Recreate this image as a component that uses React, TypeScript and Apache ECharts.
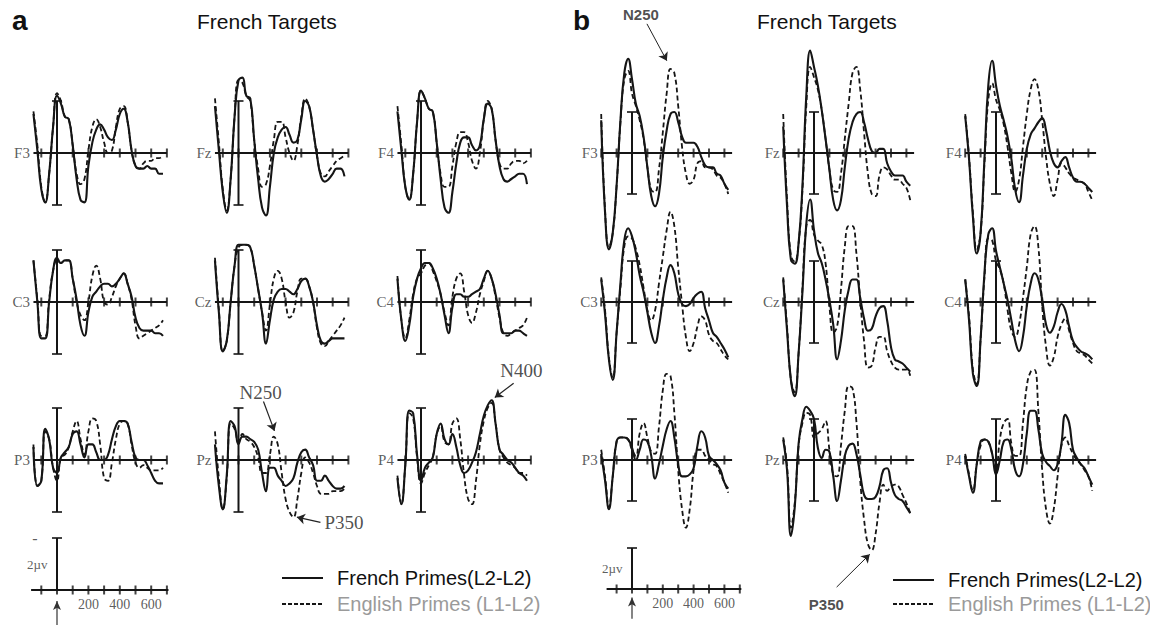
import React, { useEffect, useRef } from "react";
import * as echarts from "echarts";

// ---------- time bases (ms) and tick values ----------
const TIMES_A = [-150, -125, -100, -75, -50, -25, 0, 25, 50, 75, 100, 125, 150, 175, 200, 225, 250, 275, 300, 325, 350, 375, 400, 425, 450, 475, 500, 525, 550, 575, 600, 625, 650, 675];
const TIMES_B = [-200, -175, -150, -125, -100, -75, -50, -25, 0, 25, 50, 75, 100, 125, 150, 175, 200, 225, 250, 275, 300, 325, 350, 375, 400, 425, 450, 475, 500, 525, 550, 575, 600, 625];
const TICKS_A = [-100, 0, 100, 200, 300, 400, 500, 600, 700];
const TICKS_B = [-200, -100, 0, 100, 200, 300, 400, 500, 600];
const SCALE_TICKS = [-100, 0, 100, 200, 300, 400, 500, 600, 700];
const SCALE_LABELS = [200, 400, 600];
const SCALE_UV = 2;
const ELECTRODES = ["F3", "Fz", "F4", "C3", "Cz", "C4", "P3", "Pz", "P4"];

// ---------- panel a (µV, negative plotted up) ----------
const A_F3_FRENCH = [-1.5, -0.1, 1.4, 1.9, 0.8, -1.0, -2.2, -1.9, -1.4, -1.3, -0.3, 1.0, 1.8, 1.9, 0.5, -0.4, -0.9, -1.1, -0.9, -0.6, -0.5, -0.9, -1.5, -1.7, -1.2, -0.1, 0.5, 0.6, 0.6, 0.5, 0.6, 0.6, 0.8, 0.8];
const A_F3_ENGLISH = [-1.6, -0.3, 1.3, 1.9, 0.8, -1.0, -2.3, -2.0, -1.4, -1.3, -0.3, 0.8, 1.2, 1.0, -0.1, -1.0, -1.3, -1.0, -0.4, 0.0, -0.1, -1.0, -1.7, -1.8, -1.2, -0.1, 0.5, 0.6, 0.4, 0.3, 0.3, 0.2, 0.2, 0.1];
const A_FZ_FRENCH = [-1.8, -0.1, 1.5, 2.3, 1.0, -1.4, -2.8, -2.9, -2.2, -2.1, -0.5, 1.0, 2.1, 2.4, 1.3, 0.0, -0.6, -0.9, -1.0, -0.7, -0.4, -0.5, -1.3, -2.0, -1.8, -0.9, 0.1, 0.9, 1.1, 1.0, 0.8, 0.6, 0.6, 0.9];
const A_FZ_ENGLISH = [-2.1, -0.4, 1.4, 2.2, 1.0, -1.4, -2.8, -2.7, -2.2, -2.0, -0.5, 0.6, 1.3, 1.2, 0.5, -0.5, -1.2, -1.2, -0.6, 0.0, 0.3, -0.3, -1.4, -2.1, -1.8, -0.9, 0.1, 0.8, 0.9, 0.7, 0.5, 0.3, 0.2, 0.1];
const A_F4_FRENCH = [-1.6, -0.1, 1.3, 1.8, 0.8, -1.2, -2.4, -2.1, -1.7, -1.6, -0.4, 1.0, 2.1, 2.3, 1.5, 0.4, -0.4, -0.6, -0.6, -0.3, -0.1, -0.3, -1.3, -1.9, -1.7, -0.5, 0.5, 1.0, 1.1, 1.0, 0.9, 0.8, 0.8, 1.2];
const A_F4_ENGLISH = [-1.8, -0.3, 1.3, 1.8, 0.8, -1.2, -2.4, -2.1, -1.7, -1.6, -0.4, 0.8, 1.3, 1.3, 0.5, -0.4, -0.8, -0.8, -0.4, 0.3, 0.6, 0.0, -1.3, -2.0, -1.7, -0.5, 0.4, 0.6, 0.6, 0.4, 0.3, 0.3, 0.4, 0.3];
const A_C3_FRENCH = [-1.6, 0.0, 1.4, 1.4, 0.0, -1.2, -1.7, -1.5, -1.6, -1.6, -0.9, -0.1, 0.9, 1.3, 0.4, -0.2, -0.4, -0.6, -0.7, -0.7, -0.6, -0.7, -0.9, -1.1, -0.7, -0.2, 0.6, 1.0, 1.1, 1.1, 1.1, 1.2, 1.2, 1.3];
const A_C3_ENGLISH = [-1.6, -0.1, 1.3, 1.3, -0.1, -1.2, -1.6, -1.5, -1.6, -1.6, -0.9, 0.0, 0.5, 0.7, 0.0, -1.0, -1.4, -0.9, 0.0, 0.1, -0.2, -0.6, -0.9, -1.1, -0.7, -0.1, 0.9, 1.4, 1.3, 1.2, 1.1, 1.0, 0.9, 0.7];
const A_CZ_FRENCH = [-1.6, 0.4, 1.9, 1.5, 0.0, -1.4, -2.2, -2.2, -2.2, -2.1, -1.4, -0.5, 0.4, 1.6, 0.7, -0.1, -0.4, -0.5, -0.5, -0.4, -0.3, -0.5, -0.8, -0.9, -0.6, 0.0, 0.9, 1.5, 1.6, 1.5, 1.4, 1.4, 1.4, 1.4];
const A_CZ_ENGLISH = [-1.7, 0.3, 1.9, 1.5, 0.0, -1.4, -2.1, -2.2, -2.2, -2.1, -1.4, -0.5, 0.4, 1.1, 0.1, -0.9, -1.2, -0.9, 0.0, 0.6, 0.4, -0.4, -0.9, -0.9, -0.6, 0.0, 1.0, 1.6, 1.7, 1.5, 1.3, 1.1, 0.9, 0.6];
const A_C4_FRENCH = [-0.9, 0.7, 1.5, 0.9, -0.2, -0.9, -1.3, -1.5, -1.5, -1.3, -0.9, -0.3, 0.5, 1.2, 0.2, -0.3, -0.3, -0.2, -0.2, -0.3, -0.4, -0.5, -0.9, -1.2, -0.9, -0.3, 0.5, 1.2, 1.2, 1.2, 1.1, 1.1, 1.2, 1.3];
const A_C4_ENGLISH = [-1.0, 0.7, 1.4, 0.7, -0.3, -0.9, -1.1, -1.4, -1.5, -1.2, -0.8, -0.3, 0.4, 0.9, -0.2, -0.9, -1.1, -0.4, 0.5, 0.8, 0.4, -0.3, -0.8, -1.2, -0.9, -0.2, 0.6, 1.2, 1.3, 1.2, 1.1, 1.0, 0.9, 0.6];
const A_P3_FRENCH = [-0.5, 1.0, 0.8, -1.2, -0.8, 0.3, 0.5, -0.1, -0.3, -0.5, -1.0, -1.1, -0.6, -0.1, -0.6, -0.6, -0.3, 0.0, 0.0, -0.2, -0.8, -1.3, -1.5, -1.5, -1.4, -0.7, -0.1, 0.0, 0.0, 0.2, 0.5, 0.8, 0.9, 0.9];
const A_P3_ENGLISH = [-0.6, 1.0, 0.8, -1.1, -0.8, 0.3, 0.8, -0.1, -0.2, -0.5, -1.1, -1.5, -0.8, -0.2, -1.1, -1.6, -1.5, -0.6, 0.7, 0.8, 0.1, -0.8, -1.4, -1.5, -1.4, -0.6, 0.1, 0.3, 0.2, 0.3, 0.4, 0.4, 0.4, 0.3];
const A_PZ_FRENCH = [-0.6, 1.0, 1.9, 0.6, -1.5, -1.3, -0.6, -0.9, -0.9, -0.8, -0.7, -0.4, 0.5, 1.2, 0.3, 0.3, 0.6, 0.8, 1.0, 0.9, 0.7, 0.1, -0.3, -0.4, -0.1, 0.2, 0.8, 0.8, 0.6, 0.8, 1.0, 1.1, 1.1, 1.0];
const A_PZ_ENGLISH = [-1.1, 0.7, 1.9, 0.7, -1.4, -1.2, -0.7, -1.0, -0.8, -0.7, -0.5, -0.1, 0.5, 0.5, -0.2, -0.9, -0.6, 0.5, 1.5, 2.0, 2.2, 1.5, 0.5, -0.1, 0.1, 0.5, 1.0, 1.3, 1.3, 1.3, 1.2, 1.2, 1.2, 1.1];
const A_P4_FRENCH = [0.7, 1.7, 0.2, -1.9, -1.8, -0.2, 0.8, 0.3, 0.1, -0.1, -1.0, -1.4, -0.8, -0.6, -1.0, -0.5, 0.2, 0.5, 0.4, 0.1, -0.3, -1.0, -1.7, -2.1, -2.3, -1.4, -0.4, -0.2, 0.0, 0.1, 0.3, 0.5, 0.6, 0.8];
const A_P4_ENGLISH = [0.6, 1.7, 0.2, -1.8, -1.6, -0.1, 0.9, 0.5, 0.2, -0.1, -1.0, -1.3, -0.7, -0.6, -1.4, -1.6, -0.8, 0.6, 1.5, 1.7, 0.8, -0.6, -1.5, -2.0, -2.2, -1.4, -0.4, -0.1, 0.1, 0.2, 0.3, 0.5, 0.5, 0.6];

// ---------- panel b ----------
const B_F3_FRENCH = [-1.6, 2.9, 4.7, 3.9, 1.6, -1.6, -3.9, -4.6, -3.6, -2.4, -1.8, -0.8, 0.7, 2.1, 2.6, 2.0, 0.2, -1.1, -1.9, -2.0, -1.5, -0.8, -0.5, -0.5, -0.5, -0.3, 0.2, 0.6, 0.7, 0.7, 1.0, 1.1, 1.5, 1.8];
const B_F3_ENGLISH = [-1.9, 2.8, 4.6, 3.9, 1.6, -1.5, -3.6, -4.0, -2.9, -2.3, -1.6, -0.7, 0.7, 1.8, 1.9, 0.8, -1.0, -2.9, -4.1, -3.9, -2.3, -0.3, 1.0, 1.5, 1.3, 0.5, 0.4, 0.7, 0.7, 0.8, 1.1, 1.2, 1.5, 2.0];
const B_FZ_FRENCH = [-1.3, 2.6, 5.2, 5.4, 4.4, 1.6, -2.8, -5.0, -4.2, -3.3, -2.1, -0.7, 0.8, 2.3, 2.8, 2.3, 0.7, -0.7, -1.5, -1.9, -2.0, -1.5, -0.7, -0.1, 0.0, -0.2, -0.2, 0.5, 0.9, 1.1, 1.1, 1.1, 1.4, 1.6];
const B_FZ_ENGLISH = [-1.9, 2.3, 5.0, 5.3, 4.4, 1.8, -2.3, -4.2, -3.7, -3.1, -2.1, -0.7, 0.8, 1.8, 1.9, 1.0, -0.7, -2.4, -3.9, -4.2, -3.1, -1.0, 1.0, 2.0, 2.1, 1.1, 0.7, 0.8, 1.1, 1.3, 1.3, 1.5, 1.7, 2.3];
const B_F4_FRENCH = [-1.8, 0.3, 3.1, 4.9, 3.9, 0.3, -3.3, -4.5, -3.3, -2.3, -1.6, -0.8, 0.3, 1.8, 2.4, 1.1, -0.2, -0.9, -1.2, -1.5, -1.7, -1.1, -0.1, 0.5, 0.7, 0.4, 0.2, 0.7, 1.2, 1.4, 1.4, 1.5, 1.7, 1.9];
const B_F4_ENGLISH = [-1.9, 0.2, 2.9, 4.7, 3.9, 0.5, -2.6, -3.4, -2.6, -2.1, -1.4, -0.3, 1.0, 1.9, 1.3, -0.3, -1.9, -3.1, -3.6, -3.1, -1.6, 0.2, 1.5, 2.1, 1.3, 0.5, 0.7, 1.0, 1.2, 1.3, 1.4, 1.5, 1.9, 2.3];
const B_C3_FRENCH = [-1.1, 0.6, 2.8, 3.8, 1.5, -0.9, -3.0, -3.6, -3.2, -2.4, -1.3, -0.5, 0.5, 1.5, 2.0, 1.2, -0.1, -1.2, -1.8, -1.4, -0.4, 0.1, 0.2, 0.1, -0.2, -0.4, -0.5, 0.3, 0.9, 1.5, 1.7, 2.0, 2.3, 2.7];
const B_C3_ENGLISH = [-1.2, 0.4, 2.7, 3.7, 1.5, -0.7, -2.7, -3.2, -3.1, -2.6, -1.8, -0.7, 0.4, 0.9, 0.4, -0.9, -2.2, -3.5, -4.4, -3.7, -1.7, 0.1, 1.7, 2.4, 2.0, 1.2, 0.7, 0.9, 1.6, 1.9, 2.0, 2.3, 2.6, 2.8];
const B_CZ_FRENCH = [-1.1, 1.4, 3.8, 4.6, 2.5, -0.5, -3.8, -5.0, -3.5, -2.4, -1.9, -1.1, -0.1, 1.1, 2.8, 1.9, 0.4, -0.6, -1.1, -1.1, -0.2, 0.8, 1.4, 1.3, 0.7, 0.3, 0.2, 0.9, 2.2, 2.8, 2.9, 3.0, 3.2, 3.4];
const B_CZ_ENGLISH = [-1.2, 1.2, 3.8, 4.4, 2.5, -0.7, -3.7, -4.0, -3.3, -3.0, -2.8, -1.9, 0.2, 1.5, 1.2, -0.6, -2.7, -3.7, -3.7, -2.4, -0.1, 1.9, 3.2, 3.1, 2.2, 1.7, 1.7, 2.4, 2.9, 3.2, 3.3, 3.3, 3.3, 3.6];
const B_C4_FRENCH = [-1.1, 0.9, 3.5, 4.1, 1.8, -1.4, -3.3, -3.6, -2.5, -1.7, -0.9, -0.1, 0.9, 1.9, 2.4, 1.7, 0.2, -0.9, -1.4, -1.1, -0.1, 1.1, 1.5, 1.2, 0.5, 0.1, 0.4, 1.2, 1.9, 2.2, 2.4, 2.5, 2.6, 2.8];
const B_C4_ENGLISH = [-1.1, 0.7, 3.3, 4.0, 1.8, -1.2, -3.1, -3.0, -2.0, -1.6, -0.9, 0.4, 1.4, 1.7, 1.1, -0.2, -1.7, -3.3, -3.7, -2.7, 0.2, 2.2, 3.1, 2.7, 1.7, 1.1, 0.8, 1.4, 2.0, 2.4, 2.5, 2.6, 2.8, 3.0];
const B_P3_FRENCH = [-0.3, 1.0, 2.4, 0.8, -0.9, -1.1, -1.1, -1.0, -0.6, 0.0, -0.5, -1.0, -0.9, -0.2, 0.9, 0.2, -0.7, -1.5, -1.9, -1.1, 0.2, 0.8, 0.8, 0.7, 0.4, -0.7, -1.4, -1.1, -0.2, 0.0, 0.2, 0.5, 1.1, 1.4];
const B_P3_ENGLISH = [-0.5, 0.8, 2.3, 0.8, -0.9, -1.1, -1.1, -1.0, -0.5, -0.2, -1.3, -1.8, -1.1, -0.4, -0.3, -1.6, -3.4, -4.2, -4.1, -2.3, 0.5, 2.4, 3.3, 2.4, 0.5, -0.5, -0.5, -0.2, 0.0, 0.2, 0.3, 0.7, 1.1, 1.6];
const B_PZ_FRENCH = [-1.0, 0.5, 3.7, 2.3, -0.8, -2.0, -2.6, -2.4, -2.0, -0.6, -0.1, -0.5, -0.4, 0.8, 2.0, 1.0, -0.2, -0.7, -0.8, -0.3, 0.7, 1.7, 1.9, 1.9, 1.8, 1.3, 0.5, 0.4, 1.1, 1.7, 1.9, 2.0, 2.3, 2.6];
const B_PZ_ENGLISH = [-1.1, 0.3, 3.3, 2.1, -0.7, -1.8, -2.3, -2.2, -1.1, -1.3, -1.5, -1.9, -0.5, 0.7, 0.8, -0.7, -2.4, -3.6, -3.5, -1.9, 1.0, 2.9, 4.1, 4.4, 3.6, 2.1, 1.2, 1.5, 1.3, 1.2, 1.3, 1.7, 2.1, 2.6];
const B_P4_FRENCH = [-0.2, 0.8, 1.6, 0.2, -0.9, -1.0, -0.9, -0.3, 0.7, 0.0, -0.9, -1.0, -0.5, 0.5, 0.8, 0.2, -1.3, -2.4, -2.4, -1.5, -0.3, 0.1, 0.3, 0.5, 0.2, -0.8, -2.2, -1.8, -0.5, -0.1, 0.2, 0.4, 0.8, 1.2];
const B_P4_ENGLISH = [-0.3, 0.7, 1.5, 0.2, -0.7, -1.0, -0.9, -0.3, 0.5, -1.0, -1.8, -2.0, -0.8, -0.2, -0.2, -1.8, -3.6, -4.3, -4.4, -2.4, 0.5, 2.4, 3.1, 2.4, 0.8, -0.7, -1.1, -0.7, -0.3, 0.0, 0.2, 0.5, 0.8, 1.5];

const A_FRENCH = [A_F3_FRENCH, A_FZ_FRENCH, A_F4_FRENCH, A_C3_FRENCH, A_CZ_FRENCH, A_C4_FRENCH, A_P3_FRENCH, A_PZ_FRENCH, A_P4_FRENCH];
const A_ENGLISH = [A_F3_ENGLISH, A_FZ_ENGLISH, A_F4_ENGLISH, A_C3_ENGLISH, A_CZ_ENGLISH, A_C4_ENGLISH, A_P3_ENGLISH, A_PZ_ENGLISH, A_P4_ENGLISH];
const B_FRENCH = [B_F3_FRENCH, B_FZ_FRENCH, B_F4_FRENCH, B_C3_FRENCH, B_CZ_FRENCH, B_C4_FRENCH, B_P3_FRENCH, B_PZ_FRENCH, B_P4_FRENCH];
const B_ENGLISH = [B_F3_ENGLISH, B_FZ_ENGLISH, B_F4_ENGLISH, B_C3_ENGLISH, B_CZ_ENGLISH, B_C4_ENGLISH, B_P3_ENGLISH, B_PZ_ENGLISH, B_P4_ENGLISH];

// ---------- layout (pixels) ----------
const W = 1150;
const H = 625;
const INK = "#151515";
const SERIF = "'Liberation Serif', 'Times New Roman', serif";
const SANS = "'Liberation Sans', Arial, sans-serif";

const LAYOUT_A = { x0: [57, 238.5, 421], rows: [153, 302, 460], pxMs: 0.157, pxUv: 26, tmin: -150, tmax: 700, scaleX0: 57, scaleY: 590 };
const LAYOUT_B = { x0: [632, 814, 996], rows: [153, 302, 460], pxMs: 0.154, pxUv: 20.5, tmin: -200, tmax: 650, scaleX0: 632, scaleY: 589 };

function buildOption() {
  const grid: any[] = [];
  const xAxis: any[] = [];
  const yAxis: any[] = [];
  const series: any[] = [];

  // every grid spans the full height; its y-range is chosen so that 0 µV sits on the panel's baseline
  const addGrid = (x0: number, yPx: number, L: any, tmin: number, tmax: number) => {
    const gi = grid.length;
    grid.push({ left: x0 + tmin * L.pxMs, top: 0, width: (tmax - tmin) * L.pxMs, height: H });
    xAxis.push({ gridIndex: gi, type: "value", min: tmin, max: tmax, show: false });
    yAxis.push({ gridIndex: gi, type: "value", min: -yPx / L.pxUv, max: (H - yPx) / L.pxUv, inverse: true, show: false });
    return gi;
  };

  const textPoint = (gi: number, pt: number[], text: string, label: any, extra: any = {}) => ({
    type: "scatter", xAxisIndex: gi, yAxisIndex: gi, data: [pt], symbolSize: 1,
    itemStyle: { color: "transparent" }, silent: true, z: 6,
    label: { show: true, formatter: text, ...label }, ...extra,
  });

  const arrowLine = (from: number[], to: number[], width = 1.2) => ({
    silent: true, symbol: ["none", "arrow"], symbolSize: 8, label: { show: false },
    lineStyle: { color: "#222", width, type: "solid" },
    data: [[{ coord: from }, { coord: to }]],
  });

  const panels: { [k: string]: number } = {};

  const addPanel = (key: string, L: any, times: number[], ticks: number[], idx: number, fr: number[], en: number[]) => {
    const row = Math.floor(idx / 3), col = idx % 3;
    const gi = addGrid(L.x0[col], L.rows[row], L, L.tmin, L.tmax);
    panels[key + ELECTRODES[idx]] = gi;
    const ax = { xAxisIndex: gi, yAxisIndex: gi, silent: true };
    series.push(
      { ...ax, type: "line", data: [[L.tmin, 0], [L.tmax, 0]], symbol: "none", lineStyle: { color: INK, width: 2 }, z: 3 },
      { ...ax, type: "scatter", data: ticks.map((t) => [t, 0]), symbol: "rect", symbolSize: [2, 9], itemStyle: { color: INK }, z: 3 },
      { ...ax, type: "line", data: [[0, -SCALE_UV], [0, SCALE_UV]], symbol: "none", lineStyle: { color: INK, width: 2 }, z: 3 },
      { ...ax, type: "scatter", data: [[0, -SCALE_UV], [0, SCALE_UV]], symbol: "rect", symbolSize: [10, 2], itemStyle: { color: INK }, z: 3 },
      textPoint(gi, [L.tmin, 0], ELECTRODES[idx], { position: "left", distance: 3, fontFamily: SERIF, fontSize: 15, color: "#333" }),
      { ...ax, type: "line", data: times.map((t, k) => [t, en[k]]), smooth: 0.45, symbol: "none", lineStyle: { color: INK, width: 1.8, type: [5, 3] }, z: 4 },
      { ...ax, type: "line", data: times.map((t, k) => [t, fr[k]]), smooth: 0.45, symbol: "none", lineStyle: { color: INK, width: 2.1 }, z: 5 },
    );
  };

  for (let i = 0; i < 9; i++) addPanel("a", LAYOUT_A, TIMES_A, TICKS_A, i, A_FRENCH[i], A_ENGLISH[i]);
  for (let i = 0; i < 9; i++) addPanel("b", LAYOUT_B, TIMES_B, TICKS_B, i, B_FRENCH[i], B_ENGLISH[i]);

  // scale panels
  const addScale = (L: any, withMinus: boolean) => {
    const gi = addGrid(L.scaleX0, L.scaleY, L, -165, 710);
    const ax = { xAxisIndex: gi, yAxisIndex: gi, silent: true };
    series.push(
      { ...ax, type: "line", data: [[-165, 0], [710, 0]], symbol: "none", lineStyle: { color: INK, width: 2 }, z: 3 },
      { ...ax, type: "scatter", data: SCALE_TICKS.map((t) => [t, 0]), symbol: "rect", symbolSize: [2, 9], itemStyle: { color: INK }, z: 3 },
      { ...ax, type: "line", data: [[0, 0], [0, -SCALE_UV]], symbol: "none", lineStyle: { color: INK, width: 2 }, z: 3 },
      { ...ax, type: "scatter", data: [[0, -SCALE_UV]], symbol: "rect", symbolSize: [10, 2], itemStyle: { color: INK }, z: 3 },
      {
        ...ax, type: "scatter", data: SCALE_LABELS.map((t) => [t, 0]), symbolSize: 1, itemStyle: { color: "transparent" },
        label: { show: true, position: "bottom", distance: 7, formatter: (p: any) => String(p.value[0]), fontFamily: SERIF, fontSize: 14, color: "#333" },
      },
      textPoint(gi, [0, -SCALE_UV / 2], "2\u00b5v", { position: "left", distance: 9, fontFamily: SERIF, fontSize: 13, color: "#333" }),
      {
        ...ax, type: "line", data: [{ value: [0, 1.45], symbol: "none" }, { value: [0, 0.42], symbol: "arrow", symbolSize: [6, 9] }],
        showSymbol: true, lineStyle: { color: "#333", width: 1.2 }, itemStyle: { color: "#333" }, z: 3,
      },
    );
    if (withMinus) series.push(textPoint(gi, [-140, -SCALE_UV], "-", { position: "inside", fontFamily: SERIF, fontSize: 16, color: "#333" }));
    return gi;
  };
  addScale(LAYOUT_A, true);
  addScale(LAYOUT_B, false);

  // annotations (data coordinates of the panel they point into)
  const aPz = panels["aPz"], aP4 = panels["aP4"], bF3 = panels["bF3"], bPz = panels["bPz"];
  series.push(
    { ...textPoint(aPz, [141, -2.6], "N250", { position: "inside", fontFamily: SERIF, fontSize: 19, color: "#222" }), markLine: arrowLine([159, -2.25], [229, -1.12]) },
    { ...textPoint(aPz, [525, 2.4], "P350", { position: "right", distance: 3, fontFamily: SERIF, fontSize: 19, color: "#222" }), markLine: arrowLine([522, 2.4], [372, 2.2]) },
    { ...textPoint(aP4, [640, -3.45], "N400", { position: "inside", fontFamily: SERIF, fontSize: 19, color: "#222" }), markLine: arrowLine([590, -2.95], [470, -2.4]) },
    { ...textPoint(bF3, [58, -6.75], "N250", { position: "inside", fontFamily: SANS, fontSize: 15, fontWeight: "bold", color: "#222" }), markLine: arrowLine([97, -6.3], [226, -4.5], 1) },
    { ...textPoint(bPz, [80, 7.05], "P350", { position: "inside", fontFamily: SANS, fontSize: 15, fontWeight: "bold", color: "#222" }), markLine: arrowLine([147, 6.2], [362, 4.6], 1) },
  );

  const legend = (lx: number, y1: number, y2: number) => [
    { type: "line", shape: { x1: lx, y1, x2: lx + 41, y2: y1 }, style: { stroke: INK, lineWidth: 2 } },
    { type: "text", x: lx + 55, y: y1, style: { text: "French Primes(L2-L2)", font: `20px ${SANS}`, fill: "#111", verticalAlign: "middle" } },
    { type: "line", shape: { x1: lx, y1: y2, x2: lx + 41, y2 }, style: { stroke: INK, lineWidth: 2, lineDash: [4, 2] } },
    { type: "text", x: lx + 55, y: y2, style: { text: "English Primes (L1-L2)", font: `20px ${SANS}`, fill: "#9a9a9a", verticalAlign: "middle" } },
  ];

  const graphic = [
    { type: "text", x: 12, y: 20, style: { text: "a", font: `bold 28px ${SANS}`, fill: "#111", verticalAlign: "middle" } },
    { type: "text", x: 197, y: 21, style: { text: "French Targets", font: `21px ${SANS}`, fill: "#111", verticalAlign: "middle" } },
    { type: "text", x: 573, y: 20, style: { text: "b", font: `bold 28px ${SANS}`, fill: "#111", verticalAlign: "middle" } },
    { type: "text", x: 757, y: 21, style: { text: "French Targets", font: `21px ${SANS}`, fill: "#111", verticalAlign: "middle" } },
    ...legend(282, 578, 604),
    ...legend(893, 580, 604),
  ];

  return { animation: false, backgroundColor: "#fff", grid, xAxis, yAxis, series, graphic };
}

export default function App() {
  const ref = useRef<HTMLDivElement>(null);
  useEffect(() => {
    document.body.style.margin = "0";
    const chart = echarts.init(ref.current as HTMLDivElement, undefined, { renderer: "svg" });
    chart.setOption(buildOption() as any);
    return () => chart.dispose();
  }, []);
  return <div ref={ref} style={{ width: W, height: H, background: "#fff" }} />;
}
